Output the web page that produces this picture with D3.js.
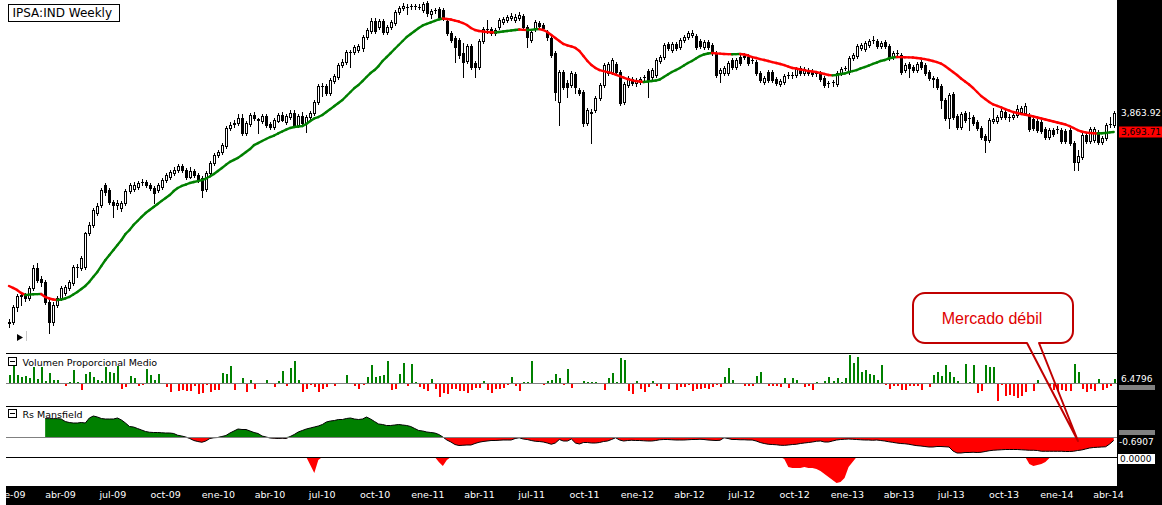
<!DOCTYPE html>
<html>
<head>
<meta charset="utf-8">
<script src="https://cdn.jsdelivr.net/npm/d3@7"></script>
<style>
html, body { margin: 0; padding: 0; background: #fff; overflow: hidden; }
svg { display: block; }
</style>
</head>
<body>
<div id="chart"></div>
<script>
const W = 1162, H = 505;

// weekly bars, IPSA, from 2 Jan 2009 to 11 Apr 2014
const dates = d3.timeFriday.range(new Date(2009, 0, 2), new Date(2014, 3, 12));

const open = [
  2348, 2354, 2439, 2504, 2510, 2492, 2552, 2676, 2607, 2589,
  2468, 2354, 2451, 2492, 2522, 2552, 2583, 2682, 2676, 2682,
  2907, 2963, 3048, 3107, 3258, 3219, 3129, 3107, 3085, 3122,
  3211, 3227, 3242, 3281, 3281, 3258, 3234, 3219, 3242, 3296,
  3320, 3352, 3376, 3408, 3376, 3320, 3368, 3336, 3312, 3227,
  3352, 3433, 3498, 3523, 3573, 3729, 3764, 3773, 3818, 3685,
  3764, 3846, 3809, 3791, 3837, 3764, 3738, 3791, 3846, 3782,
  3827, 3864, 3756, 3837, 3773, 3827, 3864, 3966, 4119, 4119,
  4052, 4168, 4208, 4329, 4360, 4465, 4465, 4486, 4508, 4627,
  4693, 4806, 4738, 4806, 4682, 4738, 4783, 4910, 4957, 4968,
  4980, 4978, 4968, 4933, 5016, 4887, 4933, 4945, 4933, 4806,
  4671, 4616, 4594, 4454, 4371, 4529, 4350, 4309, 4583, 4715,
  4715, 4671, 4738, 4794, 4817, 4840, 4817, 4840, 4864, 4738,
  4594, 4715, 4783, 4760, 4682, 4616, 4454, 3966, 4258, 4149,
  4129, 4238, 4080, 4061, 3773, 3873, 3891, 4004, 4129, 4248,
  4258, 4340, 4258, 3966, 4129, 4188, 4149, 4158, 4208, 4268,
  4208, 4228, 4371, 4412, 4551, 4486, 4551, 4518, 4594, 4627,
  4649, 4638, 4583, 4518, 4572, 4540, 4454, 4248, 4248, 4248,
  4381, 4309, 4412, 4412, 4412, 4381, 4360, 4248, 4158, 4258,
  4258, 4188, 4139, 4158, 4228, 4228, 4228, 4299, 4248, 4278,
  4268, 4248, 4248, 4198, 4149, 4158, 4139, 4248, 4299, 4258,
  4402, 4423, 4508, 4497, 4540, 4594, 4583, 4529, 4572, 4529,
  4412, 4454, 4433, 4278, 4340, 4309, 4278, 4360, 4329, 4258,
  4198, 4188, 4119, 3985, 3818, 4042, 3837, 3738, 3864, 3818,
  3827, 3782, 3729, 3659, 3624, 3791, 3791, 3827, 3873, 3827,
  3827, 3846, 3873, 3864, 3846, 3809, 3791, 3782, 3720, 3650,
  3711, 3720, 3711, 3702, 3711, 3598, 3441, 3482, 3668, 3616,
  3624, 3694, 3607, 3641, 3764, 3756
];

const high = [
  2370, 2451, 2516, 2528, 2522, 2565, 2695, 2708, 2626, 2601,
  2480, 2468, 2504, 2565, 2571, 2601, 2695, 2701, 2753, 2914,
  2984, 3085, 3122, 3234, 3273, 3234, 3144, 3144, 3137, 3227,
  3273, 3281, 3288, 3304, 3296, 3273, 3250, 3273, 3312, 3352,
  3376, 3400, 3425, 3425, 3392, 3400, 3384, 3352, 3328, 3368,
  3449, 3515, 3539, 3598, 3746, 3782, 3800, 3855, 3855, 3791,
  3864, 3873, 3818, 3855, 3855, 3782, 3818, 3864, 3873, 3855,
  3891, 3891, 3855, 3873, 3846, 3882, 3985, 4139, 4149, 4139,
  4198, 4238, 4350, 4391, 4486, 4486, 4540, 4551, 4649, 4727,
  4840, 4840, 4829, 4829, 4760, 4817, 4933, 4980, 5016, 5004,
  5004, 5004, 5004, 5027, 5039, 4945, 4957, 4968, 4957, 4829,
  4693, 4638, 4616, 4562, 4551, 4551, 4371, 4605, 4738, 4817,
  4738, 4727, 4840, 4852, 4875, 4898, 4887, 4910, 4887, 4760,
  4704, 4817, 4806, 4783, 4704, 4638, 4476, 4278, 4278, 4178,
  4268, 4258, 4100, 4080, 3910, 3900, 4023, 4149, 4350, 4360,
  4402, 4360, 4278, 4158, 4218, 4208, 4198, 4208, 4228, 4288,
  4299, 4402, 4433, 4562, 4572, 4572, 4572, 4616, 4649, 4693,
  4704, 4660, 4605, 4594, 4594, 4562, 4476, 4299, 4319, 4371,
  4402, 4402, 4433, 4454, 4444, 4412, 4381, 4268, 4218, 4278,
  4278, 4208, 4188, 4238, 4258, 4258, 4309, 4319, 4309, 4299,
  4288, 4268, 4268, 4218, 4168, 4178, 4268, 4309, 4319, 4423,
  4454, 4551, 4562, 4583, 4605, 4638, 4605, 4583, 4594, 4551,
  4476, 4486, 4454, 4350, 4360, 4329, 4360, 4381, 4350, 4278,
  4218, 4208, 4139, 4004, 4052, 4061, 3855, 3873, 3882, 3873,
  3846, 3800, 3746, 3677, 3818, 3910, 3846, 3900, 3891, 3855,
  3864, 3938, 3929, 3957, 3864, 3827, 3809, 3800, 3738, 3729,
  3729, 3746, 3729, 3720, 3729, 3616, 3539, 3685, 3685, 3738,
  3738, 3711, 3659, 3773, 3827, 3882
];

const low = [
  2327, 2343, 2416, 2451, 2474, 2480, 2540, 2589, 2565, 2457,
  2294, 2337, 2439, 2480, 2510, 2540, 2571, 2620, 2663, 2670,
  2893, 2949, 3034, 3092, 3181, 3114, 3020, 3077, 3063, 3107,
  3196, 3211, 3227, 3258, 3242, 3219, 3122, 3204, 3227, 3281,
  3304, 3336, 3360, 3360, 3304, 3312, 3320, 3281, 3167, 3211,
  3336, 3417, 3482, 3506, 3556, 3711, 3738, 3756, 3668, 3668,
  3746, 3800, 3685, 3773, 3738, 3720, 3720, 3782, 3791, 3764,
  3809, 3738, 3738, 3756, 3694, 3809, 3846, 3947, 4023, 4032,
  4032, 4149, 4188, 4309, 4340, 4309, 4444, 4465, 4476, 4605,
  4671, 4671, 4715, 4660, 4660, 4715, 4760, 4887, 4933, 4887,
  4945, 4945, 4945, 4910, 4864, 4840, 4898, 4829, 4817, 4649,
  4572, 4360, 4402, 4208, 4350, 4288, 4208, 4288, 4562, 4671,
  4649, 4649, 4715, 4771, 4794, 4817, 4794, 4817, 4715, 4518,
  4572, 4693, 4727, 4704, 4594, 4412, 3985, 3756, 4090, 4014,
  4109, 4052, 4033, 3746, 3756, 3598, 3873, 3985, 4109, 4228,
  4238, 4238, 3938, 3947, 4109, 4129, 4119, 4139, 4178, 4014,
  4188, 4208, 4350, 4391, 4486, 4465, 4486, 4497, 4572, 4605,
  4627, 4497, 4508, 4497, 4497, 4433, 4208, 4158, 4228, 4228,
  4288, 4288, 4329, 4391, 4329, 4350, 4228, 4158, 4139, 4158,
  4158, 4129, 4119, 4139, 4198, 4198, 4208, 4228, 4228, 4228,
  4218, 4218, 4168, 4109, 4109, 4119, 4119, 4228, 4278, 4238,
  4381, 4402, 4486, 4476, 4518, 4562, 4508, 4508, 4508, 4381,
  4391, 4423, 4238, 4258, 4208, 4258, 4258, 4288, 4228, 4178,
  4109, 4090, 3910, 3800, 3729, 3809, 3720, 3720, 3782, 3711,
  3756, 3711, 3633, 3522, 3607, 3773, 3773, 3809, 3809, 3791,
  3809, 3827, 3855, 3846, 3702, 3711, 3694, 3685, 3633, 3633,
  3659, 3685, 3598, 3598, 3581, 3376, 3376, 3465, 3598, 3598,
  3607, 3590, 3590, 3624, 3738, 3738
];

const close = [
  2354, 2439, 2504, 2510, 2492, 2552, 2676, 2601, 2589, 2468,
  2354, 2451, 2492, 2552, 2559, 2589, 2682, 2680, 2740, 2907,
  2963, 3070, 3100, 3219, 3204, 3129, 3107, 3122, 3122, 3211,
  3258, 3258, 3273, 3279, 3258, 3234, 3196, 3258, 3296, 3336,
  3360, 3376, 3408, 3376, 3320, 3368, 3336, 3296, 3219, 3352,
  3433, 3498, 3523, 3581, 3729, 3756, 3773, 3818, 3685, 3773,
  3846, 3818, 3800, 3837, 3756, 3738, 3800, 3846, 3800, 3837,
  3864, 3756, 3837, 3773, 3827, 3864, 3966, 4119, 4117, 4052,
  4178, 4218, 4329, 4360, 4465, 4463, 4518, 4529, 4627, 4704,
  4806, 4693, 4806, 4682, 4738, 4794, 4910, 4957, 4980, 4966,
  4978, 4980, 4966, 5004, 4898, 4922, 4931, 4852, 4840, 4671,
  4594, 4518, 4433, 4360, 4529, 4309, 4309, 4583, 4715, 4713,
  4671, 4704, 4817, 4829, 4852, 4864, 4852, 4875, 4738, 4627,
  4682, 4794, 4749, 4727, 4627, 4433, 4061, 4258, 4109, 4109,
  4248, 4109, 4052, 3773, 3891, 3864, 4004, 4129, 4329, 4340,
  4381, 4258, 3957, 4139, 4198, 4149, 4178, 4188, 4206, 4168,
  4278, 4381, 4412, 4540, 4508, 4551, 4508, 4594, 4627, 4671,
  4671, 4518, 4529, 4572, 4518, 4454, 4228, 4278, 4299, 4350,
  4309, 4381, 4350, 4423, 4350, 4379, 4248, 4178, 4198, 4178,
  4178, 4149, 4168, 4218, 4226, 4230, 4288, 4248, 4288, 4248,
  4238, 4246, 4188, 4129, 4147, 4160, 4248, 4288, 4297, 4402,
  4433, 4529, 4540, 4562, 4583, 4592, 4529, 4562, 4529, 4402,
  4454, 4452, 4258, 4329, 4299, 4278, 4340, 4309, 4248, 4198,
  4188, 4109, 3985, 3818, 4033, 3827, 3738, 3855, 3800, 3816,
  3773, 3729, 3650, 3624, 3800, 3809, 3827, 3882, 3827, 3825,
  3846, 3900, 3910, 3929, 3720, 3729, 3711, 3702, 3650, 3711,
  3677, 3718, 3616, 3616, 3598, 3441, 3490, 3668, 3616, 3720,
  3720, 3607, 3641, 3756, 3766, 3863.92
];

// moving average drawn over the candles
const movingAvg = [
  2564, 2552, 2540, 2522, 2510, 2512, 2514, 2515, 2516, 2498,
  2489, 2483, 2480, 2483, 2489, 2498, 2513, 2528, 2546, 2564,
  2589, 2620, 2651, 2689, 2727, 2760, 2792, 2826, 2859, 2900,
  2928, 2963, 2991, 3020, 3048, 3070, 3092, 3114, 3137, 3159,
  3181, 3211, 3234, 3250, 3261, 3273, 3281, 3288, 3296, 3308,
  3324, 3344, 3368, 3392, 3417, 3441, 3457, 3474, 3498, 3523,
  3547, 3581, 3598, 3616, 3633, 3650, 3663, 3681, 3698, 3715,
  3729, 3738, 3742, 3746, 3764, 3791, 3814, 3827, 3846, 3873,
  3900, 3929, 3957, 3985, 4023, 4061, 4100, 4129, 4168, 4208,
  4248, 4278, 4319, 4371, 4412, 4454, 4497, 4540, 4583, 4627,
  4660, 4693, 4727, 4755, 4772, 4789, 4806, 4823, 4834, 4829,
  4823, 4811, 4800, 4783, 4760, 4727, 4704, 4693, 4688, 4682,
  4680, 4677, 4682, 4688, 4693, 4699, 4704, 4710, 4706, 4704,
  4706, 4712, 4715, 4704, 4682, 4649, 4616, 4583, 4551, 4535,
  4524, 4508, 4476, 4423, 4371, 4329, 4299, 4278, 4268, 4258,
  4248, 4233, 4218, 4203, 4188, 4178, 4168, 4163, 4158, 4163,
  4168, 4173, 4183, 4208, 4233, 4258, 4278, 4299, 4324, 4350,
  4371, 4397, 4423, 4439, 4449, 4454, 4451, 4448, 4444, 4443,
  4442, 4443, 4444, 4439, 4428, 4412, 4402, 4391, 4381, 4371,
  4360, 4350, 4340, 4329, 4314, 4299, 4294, 4283, 4278, 4268,
  4263, 4258, 4248, 4238, 4228, 4225, 4228, 4238, 4243, 4258,
  4268, 4278, 4294, 4309, 4324, 4340, 4355, 4371, 4381, 4397,
  4407, 4412, 4411, 4410, 4409, 4407, 4402, 4397, 4391, 4381,
  4371, 4360, 4345, 4319, 4288, 4258, 4228, 4193, 4163, 4134,
  4100, 4061, 4023, 3995, 3966, 3943, 3929, 3915, 3900, 3886,
  3873, 3864, 3855, 3848, 3841, 3832, 3823, 3814, 3805, 3796,
  3787, 3778, 3769, 3760, 3746, 3729, 3711, 3698, 3690, 3685,
  3683, 3681, 3683, 3685, 3690, 3693.71
];

// Volumen Proporcional Medio
const volume = [
  13.5, 28.1, 13.5, 9.7, 11.9, 8.1, 25.9, 6.5, 25.9, 2.7,
  16.2, 4.3, 5.4, 0, -5.4, 1.6, 20.5, 1.6, -10.8, 15.1,
  17.3, 9.7, 4.3, 2.7, 25.9, 17.3, 16.2, 27, -9.7, -6.5,
  11.9, 8.1, -4.3, -2.7, 22.7, 13.5, 5.4, 15.1, 0.5, -6.5,
  -15.1, -2, -13.5, -10.8, -13.5, -13.5, -5.4, -17.3, -16.2, -2.7,
  -15.1, -10.8, -10.8, 16.2, 15.1, 28.1, -11.9, 0, 8.1, -15.1,
  5.4, -9.7, 0, 0, 4.3, 0, -6.5, 2.7, 18.9, -4.3,
  24.3, 35.1, 4.3, -15.1, -9.7, -2.7, -6.5, -15.1, -9.7, -6.5,
  0, -4.3, 0, 0, 13.5, 0, -4.3, -9.7, -2.7, 9.7,
  29.7, 9.7, 10.8, 13.5, 35.1, -11.9, -9.2, 14.6, 32.4, -4.3,
  30.8, 2.2, -5.9, -9.2, -12.4, 6.5, -10.3, -22.1, -15.7, -17.8,
  -9.2, -9.2, -13.5, -12.4, -15.7, -10.8, -7.6, -8.1, 3.2, -10.8,
  -15.7, -9.2, -9.2, -7.6, -2.7, 9.7, -5.4, -12.4, 1.6, 1.6,
  35.6, 0, 0, -2.7, 3.2, 4.9, 14.6, 8.1, -3.8, 22.7,
  -7.6, 0, -2.2, 3.2, 1.6, 1.6, 1.6, 0, -10.8, 8.1,
  16.2, 1.6, 40.5, 37.3, -12.4, -17.3, 3.2, -9.2, -14, -5.9,
  3.2, -4.3, -9.2, 0, -9.2, -2.2, -10.8, -5.9, -5.9, -2.7,
  -12.4, -9.2, -9.2, -7.6, -9.2, -5.9, -2.7, -5.9, 9.7, 24.3,
  4.9, 0, 0, -4.3, -4.3, -4.3, 11.3, 17.8, 0, -4.3,
  -4.3, -4.3, -5.9, 8.1, -7.6, 8.1, 4.9, 0, -5.9, -4.3,
  -10.8, 1.6, 0, 3.2, 9.7, 3.2, 8.1, 1.6, 8.1, 45.4,
  32.4, 41.6, 17.8, 21.6, 14.6, 12.4, 4.3, 29.7, -2.7, -9.7,
  -5.4, -5.4, -11.9, -10.8, -5.4, -5.4, -5.4, -10.8, 0, -6.5,
  13, 18.4, 10.8, 29.7, 17.3, 9.7, 2.7, -1.6, 31.3, 2.2,
  29.7, -16.2, -13.5, 29.7, 25.9, 25.9, -29.7, -2.7, -20.5, -18.9,
  -21.6, -24.3, -20.5, -15.1, -1.6, -13.5, 4.3, -1.6, 0, -5.4,
  -10.8, -13.5, -10.8, -13.5, -13.5, 31.3, 17.3, -9.7, -15.1, -9.7,
  -13.5, 6.5, -11.9, -8.1, -5.4, 6.4796
];

// Rs Mansfield
const rsMansfield = [
  null, null, null, null, null, null, null, null, null, 3.67,
  3.67, 3.67, 3.67, 3.6, 3.1, 2.9, 2.8, 2.8, 2.9, 2.8,
  3.8, 4.2, 4.0, 3.7, 3.6, 3.6, 3.6, 3.8, 3.4, 2.8,
  2.1, 2.0, 1.7, 1.4, 1.1, 0.95, 0.9, 0.9, 0.85, 0.8,
  0.8, 0.7, 0.35, 0.2, 0.0, -0.3, -0.7, -0.9, -1.05, -0.8,
  -0.3, -0.15, -0.1, 0.1, 0.3, 0.8, 1.2, 1.6, 1.5, 1.5,
  1.2, 0.9, 0.7, 0.2, 0.0, -0.2, -0.25, -0.3, -0.25, -0.3,
  0.1, 0.5, 1.0, 1.3, 1.6, 1.8, 2.0, 2.2, 2.5, 3.0,
  3.2, 3.3, 3.5, 3.5, 3.7, 3.8, 3.6, 3.5, 3.6, 4.0,
  3.6, 3.1, 2.6, 2.5, 2.3, 2.3, 2.4, 2.5, 2.4, 2.3,
  2.1, 1.7, 1.3, 1.2, 1.0, 0.9, 0.8, 0.5, 0.0, -0.6,
  -1.0, -1.5, -1.7, -1.65, -1.6, -1.6, -1.3, -1.05, -0.9, -0.8,
  -0.7, -0.7, -0.65, -0.6, -0.6, -0.6, -0.3, -0.15, -0.4, -0.5,
  -0.7, -0.85, -0.9, -1.0, -1.2, -1.45, -1.2, -0.5, -0.8, -0.8,
  -0.4, -1.2, -1.4, -1.1, -1.1, -1.2, -1.2, -1.1, -0.9, -0.8,
  -0.5, -0.15, -0.6, -0.8, -0.7, -0.65, -0.7, -0.7, -0.75, -0.8,
  -0.8, -0.7, -0.55, -0.5, -0.5, -0.55, -0.6, -0.6, -0.6, -0.55,
  -0.5, -0.5, -0.45, -0.5, -0.6, -0.65, -0.7, -0.65, -0.15, -0.3,
  -0.5, -0.5, -0.55, -0.55, -0.6, -0.6, -0.8, -1.1, -1.3, -1.45,
  -1.5, -1.55, -1.65, -1.67, -1.6, -1.5, -1.45, -1.3, -1.2, -1.1,
  -1.0, -0.85, -0.8, -1.0, -1.0, -0.8, -0.6, -0.5, -0.45, -0.4,
  -0.45, -0.5, -0.55, -0.6, -0.6, -0.65, -0.6, -0.7, -0.8, -0.95,
  -1.07, -1.2, -1.3, -1.35, -1.45, -1.6, -1.73, -1.8, -1.9, -2.0,
  -2.0, -1.9, -1.9, -1.95, -2.0, -2.8, -3.2, -3.2, -3.1, -3.1,
  -3.05, -3.1, -3.05, -2.9, -2.75, -2.65, -2.6, -2.55, -2.5, -2.5,
  -2.5, -2.5, -2.55, -2.6, -2.65, -2.65, -2.7, -2.85, -2.85, -2.85,
  -2.85, -2.85, -2.85, -2.9, -2.9, -2.85, -2.7, -2.6, -2.4, -2.2,
  -2.1, -2.05, -2.0, -1.95, -1.4, -0.6907
];

// bottom strip, zero at the top of the panel
const lowerStrip = [
  0, 0, 0, 0, 0, 0, 0, 0, 0, 0,
  0, 0, 0, 0, 0, 0, 0, 0, 0, 0,
  0, 0, 0, 0, 0, 0, 0, 0, 0, 0,
  0, 0, 0, 0, 0, 0, 0, 0, 0, 0,
  0, 0, 0, 0, 0, 0, 0, 0, 0, 0,
  0, 0, 0, 0, 0, 0, 0, 0, 0, 0,
  0, 0, 0, 0, 0, 0, 0, 0, 0, 0,
  0, 0, 0, 0, 0, -8, -16, -3, 0, 0,
  0, 0, 0, 0, 0, 0, 0, 0, 0, 0,
  0, 0, 0, 0, 0, 0, 0, 0, 0, 0,
  0, 0, 0, 0, 0, 0, 0, -5, -9, -3,
  0, 0, 0, 0, 0, 0, 0, 0, 0, 0,
  0, 0, 0, 0, 0, 0, 0, 0, 0, 0,
  0, 0, 0, 0, 0, 0, 0, 0, 0, 0,
  0, 0, 0, 0, 0, 0, 0, 0, 0, 0,
  0, 0, 0, 0, 0, 0, 0, 0, 0, 0,
  0, 0, 0, 0, 0, 0, 0, 0, 0, 0,
  0, 0, 0, 0, 0, 0, 0, 0, 0, 0,
  0, 0, 0, 0, 0, 0, 0, 0, 0, 0,
  0, 0, 0, -2, -10, -11, -11, -11, -10, -11,
  -11, -12, -14, -17, -20, -23, -26, -25, -21, -10,
  -5, 0, 0, 0, 0, 0, 0, 0, 0, 0,
  0, 0, 0, 0, 0, 0, 0, 0, 0, 0,
  0, 0, 0, 0, 0, 0, 0, 0, 0, 0,
  0, 0, 0, 0, 0, 0, 0, 0, 0, 0,
  0, 0, 0, 0, -7, -9, -8, -7, -5, -1,
  0, 0, 0, 0, 0, 0, 0, 0, 0, 0,
  0, 0, 0, 0, 0, 0
];

const monthShort = ["ene", "feb", "mar", "abr", "may", "jun", "jul", "ago", "sep", "oct", "nov", "dic"];
const titleText = "IPSA:IND Weekly";
const volumeTitle = "Volumen Proporcional Medio";
const rsTitle = "Rs Mansfield";
const noteText = "Mercado débil";

[open, high, low, close, movingAvg, volume, rsMansfield, lowerStrip].forEach((a, k) => {
  if (a.length !== dates.length) console.error("length mismatch", k, a.length, dates.length);
});

const n = dates.length;
const idx = d3.range(n);
const plotL = 6, plotR = 1117;

const x = d3.scaleTime().domain([dates[0], dates[n - 1]]).range([9, 1113.7]);
const y = d3.scaleLog().domain([3693.71, 3863.92]).range([132, 113]);
const yVol = d3.scaleLinear().domain([0, 1.62]).range([383, 382]);
const yRs = d3.scaleLinear().domain([0, 1]).range([437, 432]);
const yLow = d3.scaleLinear().domain([-28, 0]).range([485, 457]);

const svg = d3.select("#chart").append("svg")
  .attr("width", W).attr("height", H)
  .style("font-family", "'DejaVu Sans', sans-serif");

svg.append("rect").attr("width", W).attr("height", H).attr("fill", "#fff");

const cx = i => Math.round(x(dates[i]));

// ---- candles
const candles = svg.append("g").attr("shape-rendering", "crispEdges");

candles.selectAll("line").data(idx).join("line")
  .attr("x1", i => cx(i) + 0.5).attr("x2", i => cx(i) + 0.5)
  .attr("y1", i => Math.round(y(high[i])))
  .attr("y2", i => Math.round(y(low[i])) + 1)
  .attr("stroke", "#000");

candles.selectAll("rect").data(idx).join("rect")
  .each(function (i) {
    const top = Math.round(y(Math.max(open[i], close[i])));
    const bot = Math.round(y(Math.min(open[i], close[i])));
    const r = d3.select(this);
    if (close[i] > open[i] && bot - top >= 2) {
      r.attr("x", cx(i) - 0.5).attr("y", top + 0.5)
       .attr("width", 2).attr("height", bot - top)
       .attr("fill", "#fff").attr("stroke", "#000");
    } else {
      r.attr("x", cx(i) - 1).attr("y", top)
       .attr("width", 3).attr("height", Math.max(1, bot - top + 1))
       .attr("fill", "#000");
    }
  });

// ---- moving average, green rising / red falling
svg.append("g").selectAll("line").data(d3.range(1, n)).join("line")
  .attr("x1", i => x(dates[i - 1])).attr("y1", i => y(movingAvg[i - 1]))
  .attr("x2", i => x(dates[i])).attr("y2", i => y(movingAvg[i]))
  .attr("stroke", i => movingAvg[i] >= movingAvg[i - 1] ? "#008000" : "#ff0000")
  .attr("stroke-width", 2.4)
  .attr("stroke-linecap", "round");

// ---- volume panel
svg.append("g").attr("shape-rendering", "crispEdges")
  .selectAll("rect").data(idx.filter(i => volume[i] !== 0)).join("rect")
  .attr("x", i => cx(i))
  .attr("y", i => Math.min(yVol(volume[i]), yVol(0)))
  .attr("width", 2)
  .attr("height", i => Math.abs(yVol(volume[i]) - yVol(0)))
  .attr("fill", i => volume[i] > 0 ? "#008000" : "#ff0000");

// ---- Rs Mansfield panel
const hasRs = i => rsMansfield[i] != null;
svg.append("path").datum(idx)
  .attr("fill", "#008000")
  .attr("d", d3.area().defined(hasRs)
    .x(i => x(dates[i])).y0(yRs(0)).y1(i => yRs(Math.max(0, rsMansfield[i]))));
svg.append("path").datum(idx)
  .attr("fill", "#ff0000")
  .attr("d", d3.area().defined(hasRs)
    .x(i => x(dates[i])).y0(yRs(0)).y1(i => yRs(Math.min(0, rsMansfield[i]))));
svg.append("path").datum(idx)
  .attr("fill", "none").attr("stroke", "#000").attr("stroke-width", 1)
  .attr("d", d3.line().defined(hasRs)
    .x(i => x(dates[i])).y(i => yRs(rsMansfield[i])));

// ---- bottom strip
svg.append("path").datum(idx)
  .attr("fill", "#ff0000")
  .attr("d", d3.area().x(i => x(dates[i])).y0(yLow(0)).y1(i => yLow(lowerStrip[i])));

// ---- panel lines
const grid = svg.append("g").attr("shape-rendering", "crispEdges");
[383.5, 437.5].forEach(v => grid.append("line")
  .attr("x1", plotL).attr("x2", plotR).attr("y1", v).attr("y2", v)
  .attr("stroke", "#808080"));
[353.5, 406.5, 457.5].forEach(v => grid.append("line")
  .attr("x1", plotL).attr("x2", plotR).attr("y1", v).attr("y2", v)
  .attr("stroke", "#000"));

// ---- title box
svg.append("rect").attr("x", 8.5).attr("y", 4.5).attr("width", 111).attr("height", 17)
  .attr("fill", "#fff").attr("stroke", "#000");
svg.append("text").attr("x", 12.5).attr("y", 16.5)
  .attr("font-size", 12).attr("fill", "#000").text(titleText);

// ---- panel captions
[[357.5, volumeTitle], [409.5, rsTitle]].forEach(([top, label]) => {
  svg.append("rect").attr("x", 8.5).attr("y", top).attr("width", 8).attr("height", 8)
    .attr("fill", "#fff").attr("stroke", "#000").attr("shape-rendering", "crispEdges");
  svg.append("line").attr("x1", 10).attr("x2", 15).attr("y1", top + 4).attr("y2", top + 4)
    .attr("stroke", "#000").attr("shape-rendering", "crispEdges");
  svg.append("text").attr("x", 22.5).attr("y", top + 8)
    .attr("font-size", 9.5).attr("fill", "#000").text(label);
});

// small scroll marker
svg.append("path").attr("d", "M17,334 L23,337.5 L17,341 Z").attr("fill", "#000");
svg.append("line").attr("x1", 26.5).attr("x2", 26.5).attr("y1", 331).attr("y2", 341)
  .attr("stroke", "#c8c8c8");

// ---- right price band
svg.append("rect").attr("x", plotR).attr("y", 0).attr("width", W - plotR).attr("height", H)
  .attr("fill", "#000");

const lastClose = close[n - 1];
const lastAvg = movingAvg[n - 1];
svg.append("text").attr("x", 1121).attr("y", y(lastClose)).attr("dy", "0.36em")
  .attr("font-size", 9).attr("fill", "#fff").text(d3.format(",.2f")(lastClose));
svg.append("rect").attr("x", 1119).attr("y", Math.round(y(lastAvg)) - 5.5)
  .attr("width", 43).attr("height", 11).attr("fill", "#ff0000");
svg.append("text").attr("x", 1121).attr("y", y(lastAvg)).attr("dy", "0.36em")
  .attr("font-size", 9).attr("fill", "#000").text(d3.format(",.2f")(lastAvg));

// volume scale labels
svg.append("rect").attr("x", 1119).attr("y", yVol(0) + 2).attr("width", 36).attr("height", 5)
  .attr("fill", "#808080");
svg.append("text").attr("x", 1121).attr("y", yVol(volume[n - 1])).attr("dy", "0.36em")
  .attr("font-size", 9).attr("fill", "#fff").text(volume[n - 1].toFixed(4));

// rs labels
svg.append("rect").attr("x", 1119).attr("y", yRs(0) - 7).attr("width", 36).attr("height", 5)
  .attr("fill", "#808080");
svg.append("text").attr("x", 1119).attr("y", yRs(rsMansfield[n - 1]) + 1).attr("dy", "0.36em")
  .attr("font-size", 9).attr("fill", "#fff").text(rsMansfield[n - 1].toFixed(4));

// bottom strip label
svg.append("rect").attr("x", 1118).attr("y", yLow(0) - 3).attr("width", 37).attr("height", 10)
  .attr("fill", "#fff");
svg.append("text").attr("x", 1120).attr("y", yLow(0) + 2).attr("dy", "0.36em")
  .attr("font-size", 9).attr("fill", "#000").text((0).toFixed(4));

// ---- time axis
svg.append("rect").attr("x", plotL).attr("y", 486).attr("width", W - plotL).attr("height", H - 486)
  .attr("fill", "#000");
svg.append("clipPath").attr("id", "axisclip")
  .append("rect").attr("x", plotL).attr("y", 486).attr("width", W - plotL).attr("height", H - 486);

const monthFmt = d => monthShort[d.getMonth()] + "-" + d3.timeFormat("%y")(d);
const quarterTicks = d3.timeMonth.every(3).range(new Date(2009, 0, 1), new Date(2014, 4, 1));
const axis = svg.append("g").attr("clip-path", "url(#axisclip)")
  .append("g").attr("transform", "translate(0,486)")
  .call(d3.axisBottom(x).tickValues(quarterTicks).tickFormat(monthFmt).tickSize(0).tickPadding(5));
axis.select(".domain").remove();
axis.selectAll("text").attr("fill", "#fff").attr("font-size", 9.5)
  .attr("font-family", "'DejaVu Sans', sans-serif");

// ---- callout
svg.append("rect").attr("x", 913).attr("y", 293).attr("width", 160).attr("height", 50)
  .attr("rx", 12).attr("fill", "#fff");
svg.append("path")
  .attr("d", "M925,293 H1061 A12,12 0 0 1 1073,305 V331 A12,12 0 0 1 1061,343 H1039 " +
             "L1078,441 L1027,343 H925 A12,12 0 0 1 913,331 V305 A12,12 0 0 1 925,293 Z")
  .attr("fill", "none").attr("stroke", "#c00000").attr("stroke-width", 2)
  .attr("stroke-linejoin", "round");
svg.append("text").attr("x", 992).attr("y", 323.5).attr("text-anchor", "middle")
  .attr("font-family", "'Liberation Sans', Arial, sans-serif")
  .attr("font-size", 16).attr("fill", "#e00000").text(noteText);
</script>
</body>
</html>
